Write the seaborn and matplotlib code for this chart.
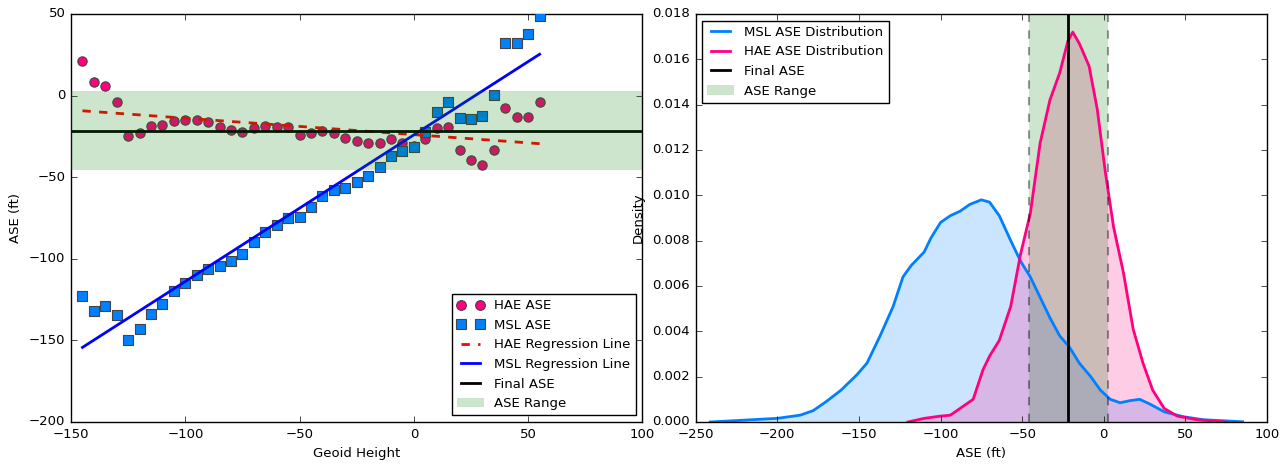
import numpy as np
import pandas as pd
import matplotlib
matplotlib.use('Agg')
import matplotlib.pyplot as plt
from matplotlib.lines import Line2D
import seaborn as sns

# geoid heights sampled every 5 ft
geoid = list(range(-145, 60, 5))

hae_ase = [21.4, 8.5, 6.1, -3.7, -24.6, -22.9, -18.4, -17.8, -15.4, -14.7,
           -14.7, -16.2, -19.4, -21.3, -22.3, -19.9, -18.4, -19.4, -19.4, -23.9,
           -22.9, -21.7, -22.9, -26.0, -27.8, -29.2, -29.2, -26.8, -29.2, -31.0,
           -26.8, -20.0, -19.0, -33.5, -39.7, -42.3, -33.5, -7.8, -12.9, -13.3,
           -3.9]

msl_ase = [-122.6, -132.0, -128.7, -134.2, -149.8, -143.2, -133.6, -127.9, -119.5, -115.0,
           -110.1, -106.3, -104.4, -101.1, -97.3, -89.9, -83.4, -79.3, -75.0, -74.4,
           -68.0, -61.7, -57.6, -56.4, -52.9, -49.1, -43.5, -36.8, -34.1, -31.3,
           -22.5, -10.0, -3.9, -13.5, -14.5, -12.3, 0.6, 32.4, 32.4, 37.5,
           48.8]

final_ase = -21.8
ase_low = -45.8
ase_high = 2.6

# density curves
msl_dens_x = [-241, -200, -186, -178, -170, -161, -151, -145, -137, -129,
              -123, -118, -110, -106, -100, -94, -88, -82, -75, -70,
              -64, -57, -51, -45, -39, -33, -27, -21, -15, -8,
              -2, 4, 10, 16, 22, 28, 37, 49, 61, 85]
msl_dens_y = [0.0, 0.00016, 0.0003, 0.0005, 0.0009, 0.0014, 0.0021, 0.0026, 0.0038, 0.0051,
              0.0064, 0.0069, 0.0075, 0.0081, 0.0088, 0.0091, 0.0093, 0.0096, 0.0098, 0.0097,
              0.0091, 0.0080, 0.0071, 0.0064, 0.0055, 0.0046, 0.0038, 0.0033, 0.0026, 0.0020,
              0.0014, 0.0010, 0.00085, 0.00094, 0.0010, 0.0008, 0.00045, 0.00023, 0.0001, 0.00001]

hae_dens_x = [-120, -110, -100, -94, -88, -80, -74, -70, -64, -57,
              -51, -45, -39, -33, -27, -22, -19, -15, -9, -4,
              1, 6, 12, 18, 24, 30, 37, 45, 57, 75]
hae_dens_y = [0.0, 0.00016, 0.00026, 0.0003, 0.0006, 0.0010, 0.0023, 0.0029, 0.0036, 0.0051,
              0.0074, 0.0092, 0.0123, 0.0142, 0.0154, 0.0168, 0.0172, 0.0167, 0.0157, 0.0138,
              0.0110, 0.0086, 0.0066, 0.0041, 0.0026, 0.0014, 0.0006, 0.00026, 0.0001, 0.0]

plt.style.use('classic')
plt.rcParams['font.family'] = ['DejaVu Sans']
plt.rcParams['font.size'] = 9.5
plt.rcParams['legend.fontsize'] = 9.5
plt.rcParams['xtick.labelsize'] = 9.5
plt.rcParams['ytick.labelsize'] = 9.5
plt.rcParams['axes.labelsize'] = 9.5

pink = '#ff0080'
blue = '#0080ff'

fig, (ax1, ax2) = plt.subplots(1, 2, figsize=(12.87, 4.65), dpi=100, facecolor='white')
fig.subplots_adjust(left=0.0552, right=0.9845, top=0.97, bottom=0.0925, wspace=0.093)

# --- left: ASE vs geoid height ---
df = pd.DataFrame({'geoid': geoid, 'hae': hae_ase, 'msl': msl_ase})
hae_fit = np.polyval(np.polyfit(df['geoid'], df['hae'], 1), df['geoid'])
msl_fit = np.polyval(np.polyfit(df['geoid'], df['msl'], 1), df['geoid'])

sns.scatterplot(data=df, x='geoid', y='hae', ax=ax1, marker='o', s=45, color=pink,
                edgecolor='#444444', linewidth=0.8, zorder=3)
sns.scatterplot(data=df, x='geoid', y='msl', ax=ax1, marker='s', s=42, color=blue,
                edgecolor='#444444', linewidth=0.8, zorder=3)
sns.lineplot(x=df['geoid'], y=hae_fit, ax=ax1, color='r', linestyle='--', linewidth=2,
             label='HAE Regression Line', zorder=4)
sns.lineplot(x=df['geoid'], y=msl_fit, ax=ax1, color='b', linewidth=2,
             label='MSL Regression Line', zorder=4)
ax1.axhline(final_ase, color='k', linewidth=2, label='Final ASE', zorder=4)
ax1.axhspan(ase_low, ase_high, color='green', alpha=0.2, linewidth=0, label='ASE Range', zorder=5)

ax1.set_xlim(-150, 100)
ax1.set_ylim(-200, 50)
ax1.set_xlabel('Geoid Height')
ax1.set_ylabel('ASE (ft)')

handles, labels = ax1.get_legend_handles_labels()
hae_h = Line2D([], [], linestyle='none', marker='o', markersize=7, markerfacecolor=pink,
               markeredgecolor='#444444', markeredgewidth=0.8)
msl_h = Line2D([], [], linestyle='none', marker='s', markersize=6.5, markerfacecolor=blue,
               markeredgecolor='#444444', markeredgewidth=0.8)
leg1 = ax1.legend([hae_h, msl_h] + handles, ['HAE ASE', 'MSL ASE'] + labels,
                  loc='lower right', numpoints=2, fancybox=False,
                  frameon=True, borderaxespad=0.5, handlelength=2)
leg1.get_frame().set_edgecolor('black')

# --- right: ASE distributions ---
msl_df = pd.DataFrame({'ase': msl_dens_x, 'density': msl_dens_y})
hae_df = pd.DataFrame({'ase': hae_dens_x, 'density': hae_dens_y})

sns.lineplot(data=msl_df, x='ase', y='density', ax=ax2, color=blue, linewidth=2,
             label='MSL ASE Distribution')
ax2.fill_between(msl_df['ase'], msl_df['density'], color=blue, alpha=0.2, linewidth=0)
sns.lineplot(data=hae_df, x='ase', y='density', ax=ax2, color=pink, linewidth=2,
             label='HAE ASE Distribution')
ax2.fill_between(hae_df['ase'], hae_df['density'], color=pink, alpha=0.2, linewidth=0)
ax2.axvline(final_ase, color='k', linewidth=2, label='Final ASE')
ax2.axvspan(ase_low, ase_high, color='green', alpha=0.2, linewidth=0, label='ASE Range')
ax2.axvline(ase_low, color='k', alpha=0.4, linestyle='--', linewidth=1.5)
ax2.axvline(ase_high, color='k', alpha=0.4, linestyle='--', linewidth=1.5)

ax2.set_xlim(-250, 100)
ax2.set_ylim(0, 0.018)
ax2.set_yticks(np.arange(0, 0.0181, 0.002))
ax2.set_xlabel('ASE (ft)')
ax2.set_ylabel('Density')
leg2 = ax2.legend(loc='upper left', fancybox=False, frameon=True, borderaxespad=0.5,
                  handlelength=2)
leg2.get_frame().set_edgecolor('black')

fig.savefig('out.png', dpi=100, facecolor='white')
